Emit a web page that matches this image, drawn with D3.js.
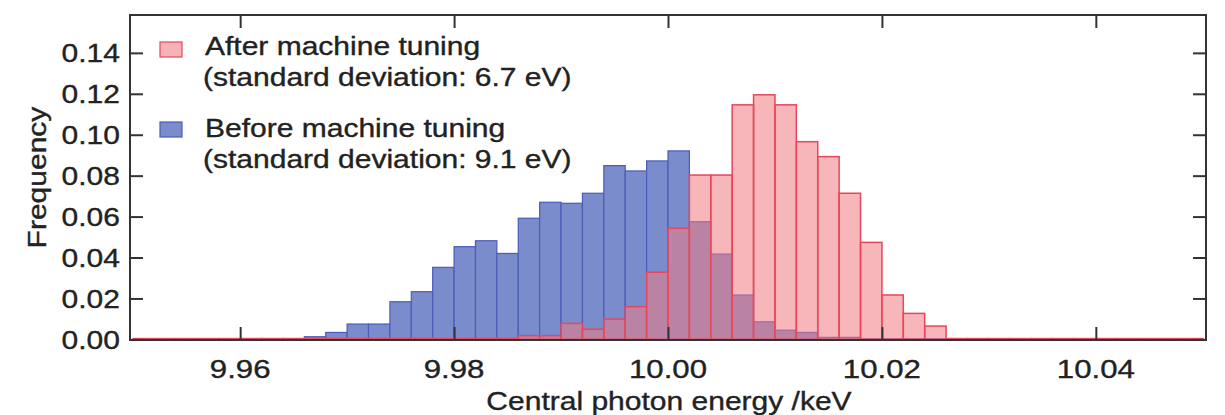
<!DOCTYPE html>
<html><head><meta charset="utf-8">
<script src="https://cdn.jsdelivr.net/npm/d3@7"></script>
<style>body{margin:0;background:#fff}svg{display:block}text{font-family:"Liberation Sans",Arial,sans-serif;fill:#222;stroke:#222;stroke-width:0.35px}</style>
</head><body><svg id="c" width="1225" height="415"></svg>
<script>
// Bin starts (keV), width 0.002
const binStart = 9.95, binWidth = 0.002;
const beforeValues = [0,0,0,0,0,0.0004,0.0004,0.0004,0.0013,0.0034,
  0.0075,0.0075,0.0184,0.0233,0.0352,0.0453,0.0482,0.0420,0.0592,0.0670,
  0.0665,0.0714,0.0849,0.0823,0.0872,0.0921,0.0575,0.0417,0.0217,0.0086,
  0.0045,0.0034,0.0010,0.0010,0.0003,0.0003,0.0003,0.0003,0.0003,0.0003,
  0.0003,0.0003,0.0003,0.0003,0.0003,0.0003,0.0003,0.0003,0.0003,0.0003];
const afterValues = [0.0004,0.0004,0.0004,0.0004,0.0004,0.0004,0.0004,0.0004,0.0004,0.0004,
  0.0004,0.0004,0.0004,0.0004,0.0004,0.0004,0.0004,0.0004,0.0018,0.0018,
  0.0078,0.0050,0.0099,0.0160,0.0328,0.0543,0.0803,0.0803,0.1146,0.1195,
  0.1146,0.0966,0.0893,0.0714,0.0474,0.0217,0.0127,0.0065,0.0004,0.0004,
  0.0004,0.0004,0.0004,0.0004,0.0004,0.0004,0.0004,0.0004,0.0004,0.0004];
const xTicks = [9.96, 9.98, 10.00, 10.02, 10.04];
const xTickLabels = ["9.96","9.98","10.00","10.02","10.04"];
const yTicks = [0,0.02,0.04,0.06,0.08,0.10,0.12,0.14];
const legendLabels = [["After machine tuning","(standard deviation: 6.7 eV)"],
                      ["Before machine tuning","(standard deviation: 9.1 eV)"]];
const xTitle = "Central photon energy /keV", yTitle = "Frequency";

const svg = d3.select("#c");
const L=130,R=1206,T=15,B=340;
const x = d3.scaleLinear().domain([9.9497,10.0503]).range([L,R]);
const y = d3.scaleLinear().domain([-0.0003,0.1585]).range([B,T]);
const STRETCH = 1.2;
function stretch(sel){ sel.each(function(){ const w=this.getComputedTextLength(); this.setAttribute("textLength", w*STRETCH); this.setAttribute("lengthAdjust","spacingAndGlyphs"); }); return sel; }

svg.append("defs").append("clipPath").attr("id","pc").append("rect").attr("x",L).attr("y",T).attr("width",R-L).attr("height",B-T);
const g = svg.append("g").attr("clip-path","url(#pc)");
const mk = v => v.map((d,i)=>({x0:binStart+i*binWidth, x1:binStart+(i+1)*binWidth, v:d}));
g.selectAll(".b").data(mk(beforeValues).filter(d=>d.v>0)).join("rect")
  .attr("x",d=>x(d.x0)).attr("width",d=>x(d.x1)-x(d.x0))
  .attr("y",d=>y(d.v)).attr("height",d=>y(0)-y(d.v))
  .attr("fill","#7b8ccc").attr("stroke","#4a5cb8").attr("stroke-width",1.2);
g.selectAll(".a").data(mk(afterValues).filter(d=>d.v>0)).join("rect")
  .attr("x",d=>x(d.x0)).attr("width",d=>x(d.x1)-x(d.x0))
  .attr("y",d=>y(d.v)).attr("height",d=>y(0)-y(d.v))
  .attr("fill","rgba(239,122,130,0.55)").attr("stroke","#e8465a").attr("stroke-width",1.5);

// axes with inward ticks
const tl = 13;
const style = a=>{a.select(".domain").remove(); a.selectAll("line").attr("stroke","#333").attr("stroke-width",2);};
svg.append("g").attr("transform",`translate(0,${B})`).call(d3.axisBottom(x).tickValues(xTicks).tickSize(-tl).tickFormat("")).call(style);
svg.append("g").attr("transform",`translate(0,${T})`).call(d3.axisTop(x).tickValues(xTicks).tickSize(-tl).tickFormat("")).call(style);
svg.append("g").attr("transform",`translate(${L},0)`).call(d3.axisLeft(y).tickValues(yTicks).tickSize(-tl).tickFormat("")).call(style);
svg.append("g").attr("transform",`translate(${R},0)`).call(d3.axisRight(y).tickValues(yTicks).tickSize(-tl).tickFormat("")).call(style);
svg.append("rect").attr("x",L).attr("y",T).attr("width",R-L).attr("height",B-T).attr("fill","none").attr("stroke","#333").attr("stroke-width",2);

// tick labels
svg.selectAll(".xl").data(xTicks).join("text").attr("x",(d)=>x(d)).attr("y",378)
  .attr("text-anchor","middle").attr("font-size",26).text((d,i)=>xTickLabels[i]).call(stretch);
svg.selectAll(".yl").data(yTicks).join("text").attr("x",120).attr("y",d=>y(d)+9.5)
  .attr("text-anchor","end").attr("font-size",25).text(d3.format(".2f")).call(stretch);
svg.append("text").attr("x",669).attr("y",410).attr("text-anchor","middle").attr("font-size",25).text(xTitle).call(stretch);
svg.append("text").attr("transform","translate(46,177.5) rotate(-90)").attr("text-anchor","middle").attr("font-size",25).text(yTitle).call(stretch);

// legend
const lg = svg.append("g");
const sw = [{fill:"#f5b3b8",stroke:"#e8465a",y:42},{fill:"#7b8ccc",stroke:"#4a5cb8",y:122}];
sw.forEach((s,i)=>{
  lg.append("rect").attr("x",160).attr("y",s.y).attr("width",22).attr("height",15).attr("fill",s.fill).attr("stroke",s.stroke).attr("stroke-width",1.2);
  lg.append("text").attr("x",205).attr("y",[55,137][i]).attr("font-size",25).text(legendLabels[i][0]).call(stretch);
  lg.append("text").attr("x",203).attr("y",[86,168][i]).attr("font-size",25).text(legendLabels[i][1]).call(stretch);
});
</script></body></html>
